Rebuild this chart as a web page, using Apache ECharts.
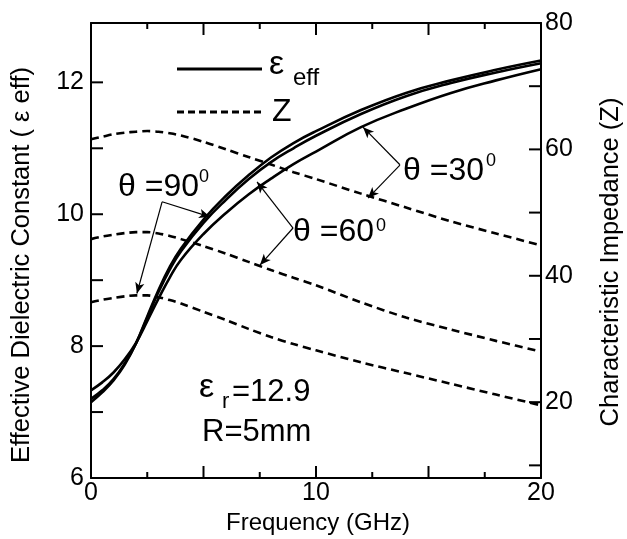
<!DOCTYPE html>
<html>
<head>
<meta charset="utf-8">
<script src="https://cdn.jsdelivr.net/npm/echarts@6/dist/echarts.min.js"></script>
<style>
  html, body { margin: 0; padding: 0; background: #fff; }
  #chart { width: 627px; height: 539px; }
</style>
</head>
<body>
<div id="chart"></div>
<script>
// frequency grid (GHz)
var freq = [0, 0.5, 1, 1.5, 2, 2.5, 3, 3.5, 4, 5, 6, 7, 8, 9, 10, 12, 14, 16, 18, 20];

// effective dielectric constant, left axis
var eps30 = [7.33, 7.45, 7.6, 7.8, 8.05, 8.38, 8.72, 9.04, 9.31, 9.7, 10.02, 10.3, 10.54, 10.76, 10.95, 11.32, 11.6, 11.84, 12.03, 12.2];
var eps60 = [7.2, 7.33, 7.5, 7.74, 8.04, 8.43, 8.82, 9.16, 9.44, 9.87, 10.22, 10.53, 10.79, 11.0, 11.19, 11.52, 11.79, 11.99, 12.15, 12.29];
var eps90 = [7.15, 7.3, 7.48, 7.72, 8.04, 8.45, 8.85, 9.2, 9.48, 9.92, 10.28, 10.59, 10.86, 11.08, 11.26, 11.58, 11.84, 12.03, 12.19, 12.33];

// characteristic impedance, right axis
var z30 = [61.6, 62.0, 62.4, 62.65, 62.8, 62.9, 62.8, 62.55, 62.2, 61.2, 60.0, 58.8, 57.6, 56.4, 55.3, 53.0, 50.8, 48.6, 46.7, 44.8];
var z60 = [45.8, 46.2, 46.5, 46.75, 46.9, 46.9, 46.7, 46.3, 45.8, 44.7, 43.5, 42.2, 40.9, 39.7, 38.5, 35.8, 33.4, 31.5, 29.7, 28.0];
var z90 = [35.8, 36.2, 36.5, 36.75, 36.9, 36.9, 36.6, 36.15, 35.6, 34.3, 33.0, 31.6, 30.3, 29.2, 28.2, 26.3, 24.6, 22.9, 21.2, 19.5];

// ticks and tick labels
var xMajorTicks = [0, 5, 10, 15, 20];
var xMinorTicks = [2.5, 7.5, 12.5, 17.5];
var xLabels = [0, 10, 20];
var epsTicks = [6, 7, 8, 9, 10, 11, 12];
var epsLabels = [6, 8, 10, 12];
var zTicks = [10, 20, 30, 40, 50, 60, 70, 80];
var zLabels = [20, 40, 60, 80];

var FONT = '"Liberation Sans", Arial, sans-serif';
var BLACK = '#000';

function pairs(ys) {
    return freq.map(function (f, i) { return [f, ys[i]]; });
}

// arrow from label vertex to curve
function arrow(from, to) {
    return [{ coord: from }, { coord: to }];
}
var arrowStyle = {
    silent: true,
    symbol: ['none', 'arrow'],
    symbolSize: [7, 11],
    lineStyle: { color: BLACK, width: 1.2, type: 'solid' },
    label: { show: false },
    emphasis: { disabled: true }
};

function solid(data, arrows) {
    return {
        type: 'line', xAxisIndex: 0, yAxisIndex: 0,
        data: pairs(data), showSymbol: false, smooth: 0.45,
        lineStyle: { color: BLACK, width: 2.6 },
        markLine: Object.assign({ data: arrows }, arrowStyle)
    };
}
function dashed(data, arrows) {
    return {
        type: 'line', xAxisIndex: 0, yAxisIndex: 1,
        data: pairs(data), showSymbol: false, smooth: 0.3,
        lineStyle: { color: BLACK, width: 2.6, type: [8, 5] },
        markLine: Object.assign({ data: arrows }, arrowStyle)
    };
}

function txt(str, x, baseline, size, align) {
    return {
        type: 'text', z: 100,
        style: {
            text: str, x: x, y: baseline - size * 0.35,
            font: size + 'px ' + FONT, fill: BLACK,
            align: align || 'left', verticalAlign: 'middle'
        }
    };
}
// vertical axis title, reads bottom to top
function vtitle(str, cx, cy, size) {
    return {
        type: 'text', z: 100, x: cx, y: cy, rotation: Math.PI / 2,
        style: {
            text: str, x: 0, y: 0, font: size + 'px ' + FONT, fill: BLACK,
            align: 'center', verticalAlign: 'middle'
        }
    };
}
function seg(x1, y1, x2, y2) {
    return { type: 'line', z: 100, shape: { x1: x1, y1: y1, x2: x2, y2: y2 }, style: { stroke: BLACK, lineWidth: 2 } };
}

function xAxisCfg(pos, showLabel) {
    return {
        type: 'value', position: pos, min: 0, max: 20, interval: 5,
        axisLine: { show: true, onZero: false, lineStyle: { color: BLACK, width: 2 } },
        axisTick: { show: false },
        splitLine: { show: false },
        axisLabel: {
            show: showLabel, color: BLACK, fontSize: 25, fontFamily: FONT, margin: 3,
            formatter: function (v) { return xLabels.indexOf(v) >= 0 ? String(v) : ''; }
        }
    };
}

var textMarks = [
    // legend
    { type: 'line', z: 100, shape: { x1: 177, y1: 69, x2: 262, y2: 69 }, style: { stroke: BLACK, lineWidth: 3 } },
    txt('ε', 269, 77, 34),
    txt('eff', 293, 87, 24),
    { type: 'line', z: 100, shape: { x1: 177, y1: 112, x2: 262, y2: 112 }, style: { stroke: BLACK, lineWidth: 3, lineDash: [7, 4] } },
    txt('Z', 272, 123, 32),
    // theta labels
    txt('θ =90', 118, 198, 32),
    txt('0', 199, 183, 18),
    txt('θ =60', 293, 243, 32),
    txt('0', 376, 232, 18),
    txt('θ =30', 403, 182, 32),
    txt('0', 486, 167, 18),
    // material parameters
    txt('ε', 199, 400, 34),
    txt('r', 222, 410, 22),
    txt('=12.9', 232, 403, 31),
    txt('R=5mm', 202, 443, 31),
    // axis titles
    txt('Frequency (GHz)', 318, 532, 24, 'center'),
    vtitle('Effective Dielectric Constant ( ε eff)', 22, 265, 25.5),
    vtitle('Characteristic Impedance (Z)', 611, 262, 25.5)
];

var option = {
    animation: false,
    backgroundColor: '#fff',
    grid: { left: 91, right: 86, top: 23, bottom: 61, outerBoundsMode: 'none' },
    xAxis: [xAxisCfg('bottom', true), xAxisCfg('top', false)],
    yAxis: [{
        type: 'value', position: 'left', min: 6, max: 12.9,
        axisLine: { show: true, onZero: false, lineStyle: { color: BLACK, width: 2 } },
        axisTick: { show: false },
        splitLine: { show: false },
        axisLabel: { color: BLACK, fontSize: 25, fontFamily: FONT, margin: 7, customValues: epsLabels }
    }, {
        type: 'value', position: 'right', min: 8, max: 80,
        axisLine: { show: true, onZero: false, lineStyle: { color: BLACK, width: 2 } },
        axisTick: { show: false },
        splitLine: { show: false },
        axisLabel: { color: BLACK, fontSize: 25, fontFamily: FONT, margin: 4, customValues: zLabels }
    }],
    series: [
        solid(eps30, [arrow([13.73, 10.75], [12.09, 11.32])]),
        solid(eps60, [arrow([8.98, 9.79], [7.38, 10.49])]),
        solid(eps90, [arrow([3.16, 10.19], [5.29, 9.96])]),
        dashed(z30, [arrow([13.73, 57.5], [12.31, 52.3])]),
        dashed(z60, [arrow([8.98, 47.56], [7.51, 41.7])]),
        dashed(z90, [arrow([3.16, 51.7], [2.04, 37.2])])
    ]
};

var chart = echarts.init(document.getElementById('chart'));
chart.setOption(option);

// inward ticks on all four sides, placed through the axes' own scales
var xl = chart.convertToPixel({ xAxisIndex: 0 }, 0);
var xr = chart.convertToPixel({ xAxisIndex: 0 }, 20);
var yb = chart.convertToPixel({ yAxisIndex: 0 }, 6);
var yt = chart.convertToPixel({ yAxisIndex: 0 }, 12.9);
var ticks = [];
xMajorTicks.forEach(function (v) {
    var x = chart.convertToPixel({ xAxisIndex: 0 }, v);
    ticks.push(seg(x, yb, x, yb - 12), seg(x, yt, x, yt + 12));
});
xMinorTicks.forEach(function (v) {
    var x = chart.convertToPixel({ xAxisIndex: 0 }, v);
    ticks.push(seg(x, yb, x, yb - 6), seg(x, yt, x, yt + 6));
});
epsTicks.forEach(function (v) {
    var y = chart.convertToPixel({ yAxisIndex: 0 }, v);
    ticks.push(seg(xl, y, xl + 12, y));
});
zTicks.forEach(function (v) {
    var y = chart.convertToPixel({ yAxisIndex: 1 }, v);
    ticks.push(seg(xr, y, xr - 12, y));
});

chart.setOption({ graphic: textMarks.concat(ticks) });
</script>
</body>
</html>
